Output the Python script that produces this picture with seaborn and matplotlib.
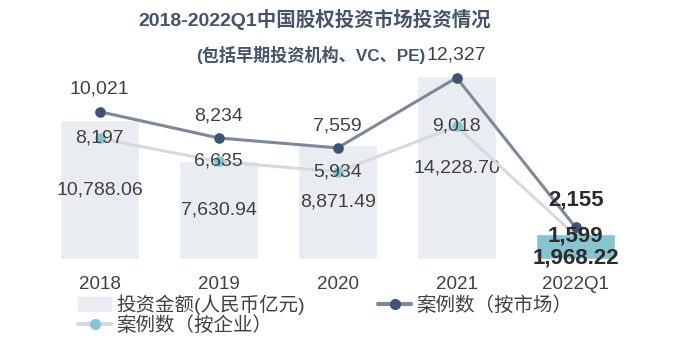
import matplotlib as mpl
mpl.use('Agg')
import matplotlib.pyplot as plt
import seaborn as sns
from matplotlib.patches import Patch
from matplotlib.lines import Line2D

# data
periods = ['2018', '2019', '2020', '2021', '2022Q1']
amount = [10788.06, 7630.94, 8871.49, 14228.70, 1968.22]      # 投资金额(人民币亿元)
cases_market = [10021, 8234, 7559, 12327, 2155]               # 案例数（按市场）
cases_enterprise = [8197, 6635, 5934, 9018, 1599]             # 案例数（按企业）

bar_color = '#E9EDF1'
bar_last = '#88C3D0'
dark_line, dark_dot = '#7D8898', '#3D5573'
light_line, light_dot = '#D5D9E1', '#86C5D3'
txt = '#404040'

sns.set_theme(style='white')
plt.rcParams['font.family'] = ['Liberation Sans', 'Noto Sans CJK SC', 'DejaVu Sans']

fig = plt.figure(figsize=(6.8, 3.54), dpi=100)
ax = fig.add_axes([0.059, 0.268, 0.875, 0.582])

sns.barplot(x=periods, y=amount, hue=periods,
            palette=[bar_color] * 4 + [bar_last],
            width=0.67, saturation=1, legend=False, ax=ax)
ax.set_ylim(0, 16000)
ax.set_xlim(-0.5, 4.5)

ax2 = ax.twinx()
sns.pointplot(x=periods, y=cases_enterprise, color=light_line, errorbar=None,
              markers='o', markersize=6, linewidth=2.2, ax=ax2)
sns.pointplot(x=periods, y=cases_market, color=dark_line, errorbar=None,
              markers='o', markersize=6, linewidth=2.2, ax=ax2)
ax2.lines[0].set_markerfacecolor(light_dot)
ax2.lines[0].set_markeredgecolor(light_dot)
ax2.lines[1].set_markerfacecolor(dark_dot)
ax2.lines[1].set_markeredgecolor(dark_dot)
ax2.set_ylim(0, 14000)

for a in (ax, ax2):
    sns.despine(ax=a, left=True, right=True, top=True, bottom=True)
    a.set_yticks([])
    a.set_ylabel('')
    a.set_xlabel('')
ax.tick_params(axis='x', length=0, pad=12, labelsize=13.5, labelcolor=txt)

last = len(periods) - 1
lab_size = 14
bold_font = dict(family=['Liberation Sans Narrow', 'Liberation Sans'],
                 fontweight='bold', fontsize=16, color='#2b2b2b')

for i, v in enumerate(amount):
    if i == last:
        ax2.annotate(f'{v:,.2f}', (i, v / 2 * 14000 / 16000), xytext=(0, -8),
                     textcoords='offset points', ha='center', va='center',
                     zorder=10, **bold_font)
    else:
        ax.annotate(f'{v:,.2f}', (i, v / 2), ha='center', va='center',
                    fontsize=lab_size, color=txt)

for i, v in enumerate(cases_market):
    if i == last:
        ax2.annotate(f'{v:,}', (i, v), xytext=(0, 20), textcoords='offset points',
                     ha='center', va='center', zorder=10, **bold_font)
    else:
        ax2.annotate(f'{v:,}', (i, v), xytext=(0, 16), textcoords='offset points',
                     ha='center', va='center', fontsize=lab_size, color=txt, zorder=10)

for i, v in enumerate(cases_enterprise):
    if i == last:
        ax2.annotate(f'{v:,}', (i, v), ha='center', va='center', zorder=10, **bold_font)
    else:
        ax2.annotate(f'{v:,}', (i, v), ha='center', va='center',
                     fontsize=lab_size, color=txt, zorder=10)

title_color = '#44546A'
fig.text(315 / 680, 1 - 19 / 354, '2018-2022Q1中国股权投资市场投资情况',
         ha='center', va='center', fontsize=14, fontweight='bold', color=title_color)
fig.text(311 / 680, 1 - 55 / 354, '(包括早期投资机构、VC、PE)',
         ha='center', va='center', fontsize=12.3, fontweight='bold', color=title_color)

handles = [Patch(color=bar_color),
           Line2D([], [], color=light_line, lw=3, marker='o', ms=7,
                  markerfacecolor=light_dot, markeredgecolor=light_dot),
           Line2D([], [], color=dark_line, lw=3, marker='o', ms=7,
                  markerfacecolor=dark_dot, markeredgecolor=dark_dot)]
labels = ['投资金额(人民币亿元)', '案例数（按企业）', '案例数（按市场）']
fig.legend(handles, labels, ncol=2, loc='upper left',
           bbox_to_anchor=(78 / 680, 1 - 294 / 354), frameon=False,
           fontsize=14, labelcolor=txt, borderpad=0, borderaxespad=0,
           handlelength=1.7, handletextpad=0.25, columnspacing=3.8,
           labelspacing=0.1)

fig.savefig('out.png', dpi=100)
